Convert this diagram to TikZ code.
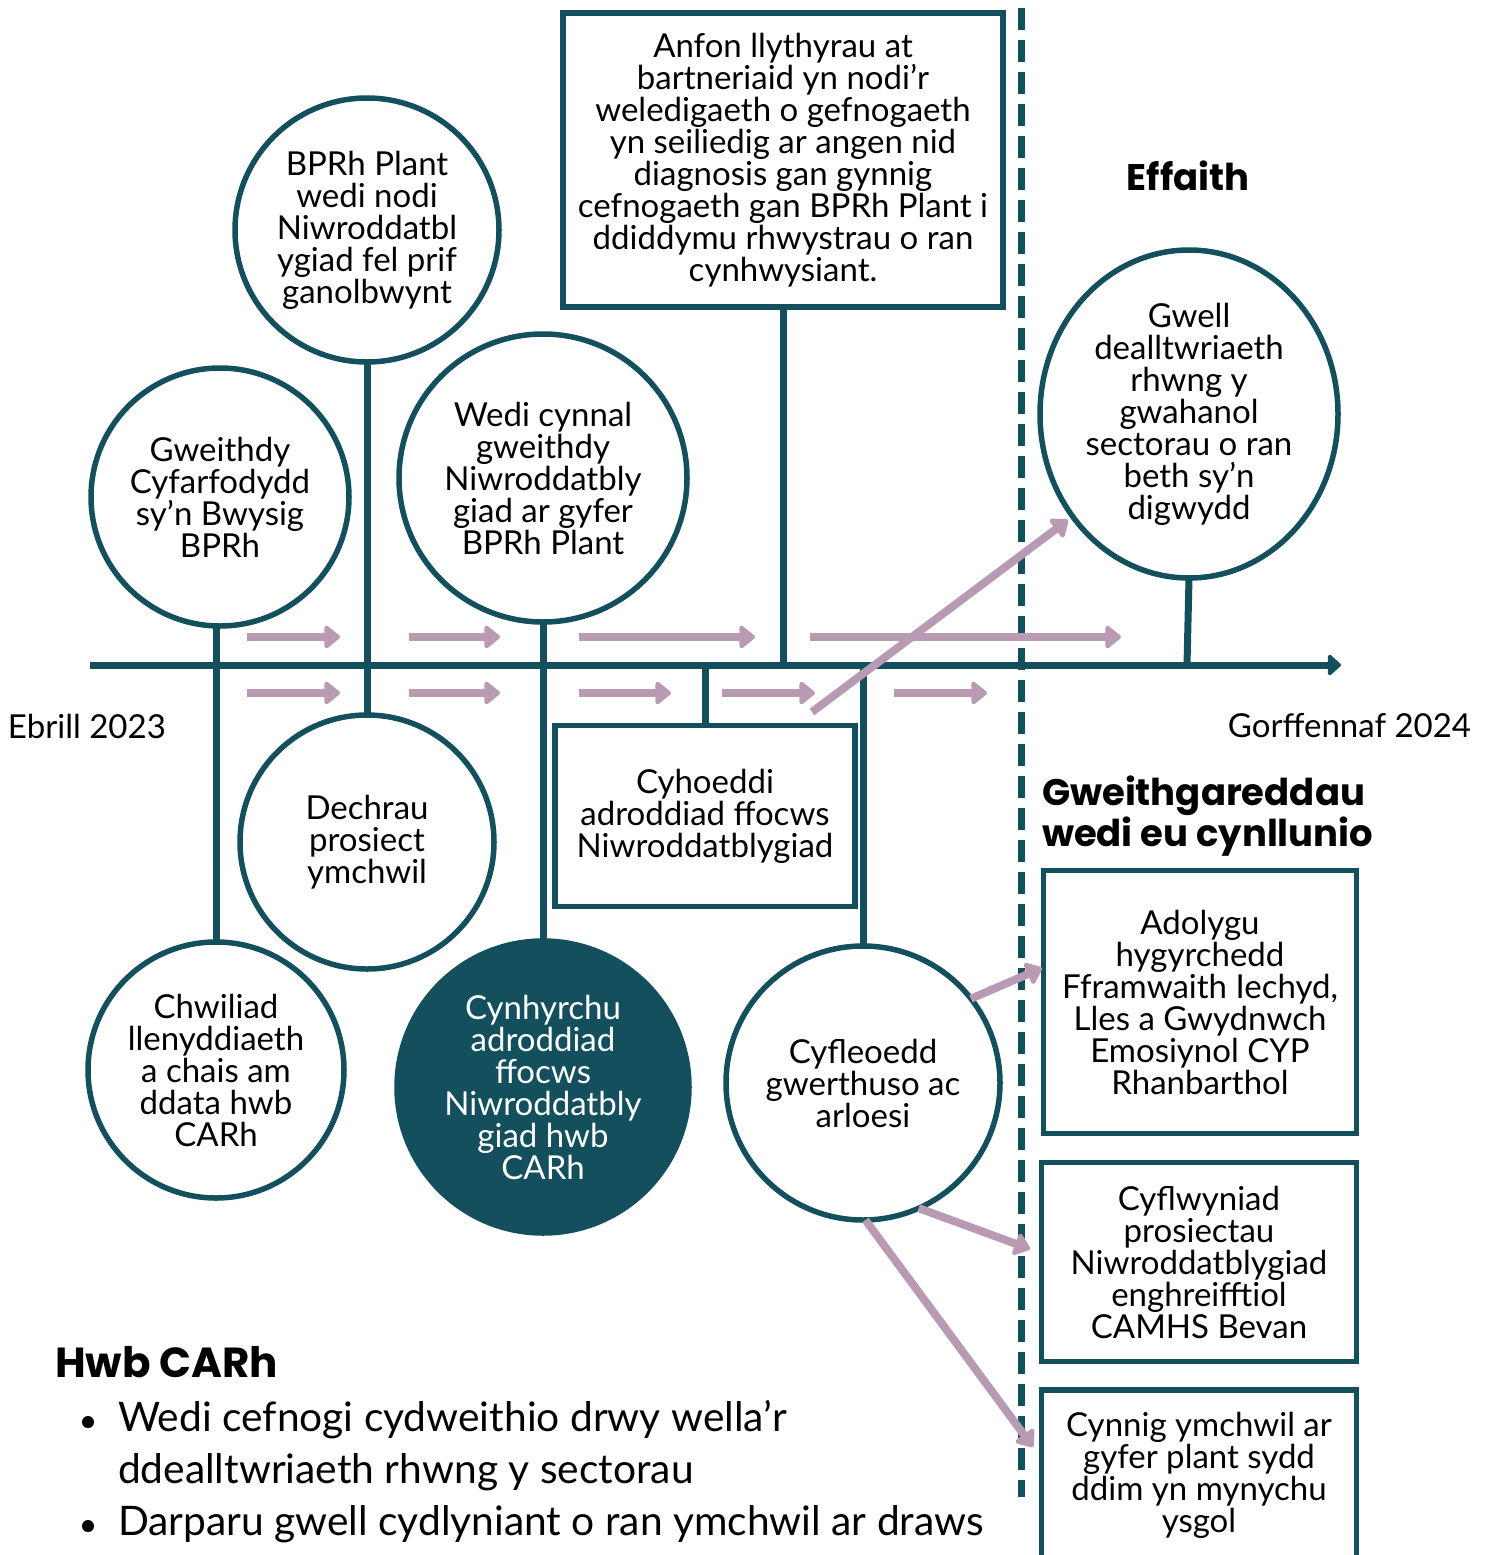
\documentclass[tikz,border=0pt]{standalone}
\usepackage{fontspec}
\setmainfont{Lato}
\newfontfamily\headfont{Poppins}
\usetikzlibrary{arrows.meta,shapes.geometric}
\definecolor{teal}{RGB}{19,79,92}
\definecolor{mauve}{RGB}{184,155,178}
\tikzset{
  every node/.style={inner sep=0pt, outer sep=0pt},
  bodyfont/.style={font=\fontsize{33}{32}\selectfont},
  bub/.style={circle, draw=teal, line width=5.5pt, minimum size=#1, align=center, bodyfont},
  bubfill/.style={circle, draw=teal, fill=teal, line width=5.5pt, minimum size=#1, align=center,
    text=white, bodyfont},
  tbox/.style={rectangle, draw=teal, line width=5.5pt, align=center, bodyfont},
  conn/.style={draw=teal, line width=7pt},
  parrow/.style={draw=mauve, line width=8pt, -{Triangle[length=17pt,width=26pt,round]}},
  head/.style={font=\fontsize{37}{36}\headfont\bfseries, align=left},
  btxt/.style={font=\fontsize{40.7}{52}\selectfont, anchor=west},
}
\begin{document}
\begin{tikzpicture}[x=1pt,y=-1pt]
\useasboundingbox (0,0) rectangle (1488,1555);
% axis
\coordinate (axL) at (90,665);
\coordinate (axR) at (1341,665);
\draw[conn, -{Triangle[length=14pt,width=24pt,round]}] (axL) -- (axR);
% dashed divider
\coordinate (dT) at (1021,8);
\coordinate (dB) at (1021,1497);
\draw[teal, line width=7pt, dash pattern=on 22pt off 10pt] (dT) -- (dB);

% nodes
\node[bub=258pt] (c1) at (220,497) {Gweithdy\\Cyfarfodydd\\sy’n Bwysig\\BPRh};
\node[bub=264pt] (c2) at (367,230) {BPRh Plant\\wedi nodi\\Niwroddatbl\\ygiad fel prif\\ganolbwynt};
\node[bub=288pt] (c3) at (543,478) {Wedi cynnal\\gweithdy\\Niwroddatbly\\giad ar gyfer\\BPRh Plant};
\node[bub=254pt] (c4) at (367,842) {Dechrau\\prosiect\\ymchwil};
\node[bub=256pt] (c5) at (216,1070) {Chwiliad\\llenyddiaeth\\a chais am\\ddata hwb\\CARh};
\node[bubfill=292pt] (c6) at (543,1087) {Cynhyrchu\\adroddiad\\ffocws\\Niwroddatbly\\giad hwb\\CARh};
\node[bub=274pt] (c7) at (863,1083) {Cyfleoedd\\gwerthuso ac\\arloesi};
\node[ellipse, draw=teal, line width=5.5pt, minimum width=298pt, minimum height=328pt, align=center,
  bodyfont] (c8) at (1189,414)
  {Gwell\\dealltwriaeth\\rhwng y\\gwahanol\\sectorau o ran\\beth sy’n\\digwydd};

\node[tbox, minimum width=440pt, minimum height=294pt] (bt) at (783,160)
  {Anfon llythyrau at\\bartneriaid yn nodi’r\\weledigaeth o gefnogaeth\\yn seiliedig ar angen nid\\diagnosis gan gynnig\\cefnogaeth gan BPRh Plant i\\ddiddymu rhwystrau o ran\\cynhwysiant.};
\node[tbox, minimum width=300pt, minimum height=181pt] (bc) at (705,816)
  {Cyhoeddi\\adroddiad ffocws\\Niwroddatblygiad};
\node[tbox, minimum width=313pt, minimum height=263pt] (b1) at (1200,1002)
  {Adolygu\\hygyrchedd\\Fframwaith Iechyd,\\Lles a Gwydnwch\\Emosiynol CYP\\Rhanbarthol};
\node[tbox, minimum width=315pt, minimum height=199pt] (b2) at (1199,1262)
  {Cyflwyniad\\prosiectau\\Niwroddatblygiad\\enghreifftiol\\CAMHS Bevan};
\node[tbox, minimum width=315pt, minimum height=176pt, anchor=north] (b3) at (1199,1390) {};
\node[align=center, bodyfont] (b3t) at (1199,1475)
  {Cynnig ymchwil ar\\gyfer plant sydd\\ddim yn mynychu\\ysgol};

% connectors to axis / between circles
\draw[conn] (c5.north) -- (c5.north |- c1.south);
\draw[conn] (c2.south) -- (c4.north);
\draw[conn] (c3.south) -- (c6.north);
\draw[conn] (bt.south) -- (bt.south |- axL);
\draw[conn] (bc.north) -- (bc.north |- axL);
\draw[conn] (c7.north) -- (c7.north |- axL);
\coordinate (c8ax) at (1187,665);
\draw[conn] (c8.south) -- (c8ax);

% purple arrows
\foreach \a/\b in {247/340, 409/500, 579/755, 810/1121}{
  \draw[parrow] (\a,637) -- (\b,637);
}
\foreach \a/\b in {247/340, 409/500, 579/671, 722/815, 894/987}{
  \draw[parrow] (\a,693) -- (\b,693);
}
\coordinate (dg0) at (812,712);
\coordinate (dg1) at (1068,520);
\draw[parrow] (dg0) -- (dg1);
\coordinate (e1) at (1042,968);
\coordinate (e2) at (1030,1249);
\coordinate (e3) at (1033,1447);
\draw[parrow] (c7.38) -- (e1);
\draw[parrow] (c7.-66) -- (e2);
\draw[parrow] (c7.-89) -- (e3);

% labels
\node[bodyfont, anchor=west] (l1) at (8,726) {Ebrill 2023};
\node[bodyfont, anchor=east] (l2) at (1471,726) {Gorffennaf 2024};
\node[head] (h1) at (1188,176) {Effaith};
\node[head, anchor=north west] (h2) at (1042,776) {Gweithgareddau\\wedi eu cynllunio};
\node[head, font=\fontsize{42}{40}\headfont\bfseries, anchor=west] (h3) at (55,1362) {Hwb CARh};
\node[btxt] (t1) at (118,1420) {Wedi cefnogi cydweithio drwy wella’r};
\node[btxt] (t2) at (118,1472) {ddealltwriaeth rhwng y sectorau};
\node[btxt] (t3) at (118,1524) {Darparu gwell cydlyniant o ran ymchwil ar draws};
\fill (88,1422) circle (6pt);
\fill (88,1526) circle (6pt);
\end{tikzpicture}
\end{document}
